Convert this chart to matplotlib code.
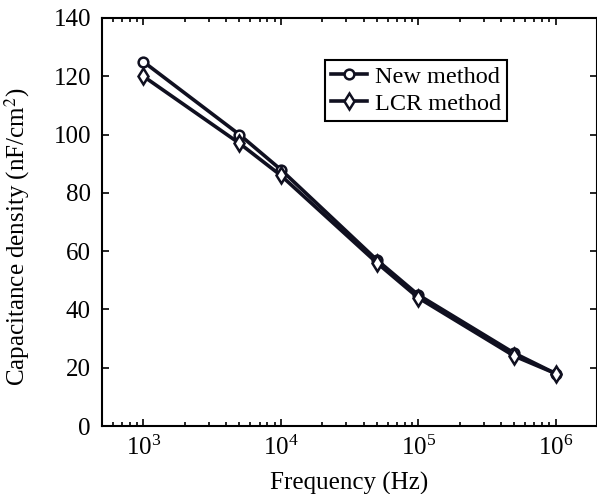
import matplotlib
import matplotlib.pyplot as plt
import numpy as np

matplotlib.use('agg')
plt.rcParams['font.family'] = ['Liberation Serif', 'DejaVu Serif']
plt.rcParams['mathtext.fontset'] = 'stix'

freq = [1e3, 5e3, 1e4, 5e4, 1e5, 5e5, 1e6]
new_method = [125, 100, 88, 57, 45, 25, 18]
lcr_method = [120, 97, 86, 56, 44, 24, 18]

fig = plt.figure(figsize=(5.97, 4.94), dpi=100)
ax = fig.add_axes([102 / 597, 68 / 494, 495 / 597, 408 / 494])

ax.plot(freq, new_method, color='#101020', lw=2.6, marker='o', ms=7, mfc='white', mew=1.8, label='New method')
ax.plot(freq, lcr_method, color='#101020', lw=2.6, marker='d', ms=8, mfc='white', mew=1.8, label='LCR method')

ax.set_xscale('log')
ax.set_xlim(500, 2e6)
ax.set_ylim(0, 140)
ax.set_yticks(np.arange(0, 141, 20))
ax.tick_params(which='both', direction='in', top=True, right=True, labelsize=18, width=1.2)
ax.tick_params(axis='y', which='major', length=5, pad=8)
ax.tick_params(axis='x', which='major', length=5, pad=7)
ax.tick_params(which='minor', length=3)
for s in ax.spines.values():
    s.set_linewidth(1.5)

ax.set_xlabel('Frequency (Hz)', fontsize=18)
ax.set_ylabel('Capacitance density (nF/cm$^2$)', fontsize=18)
ax.xaxis.set_label_coords(0.5, -0.113)
ax.yaxis.set_label_coords(-0.142, 0.465)

leg = ax.legend(loc='upper left', bbox_to_anchor=(0.45, 0.898), fontsize=17.5, frameon=True, fancybox=False,
                edgecolor='black', handlelength=1.5, handletextpad=0.3, borderpad=0.25, labelspacing=0.2,
                borderaxespad=0, framealpha=1)
leg.get_frame().set_linewidth(1.5)

plt.savefig('out.png')
